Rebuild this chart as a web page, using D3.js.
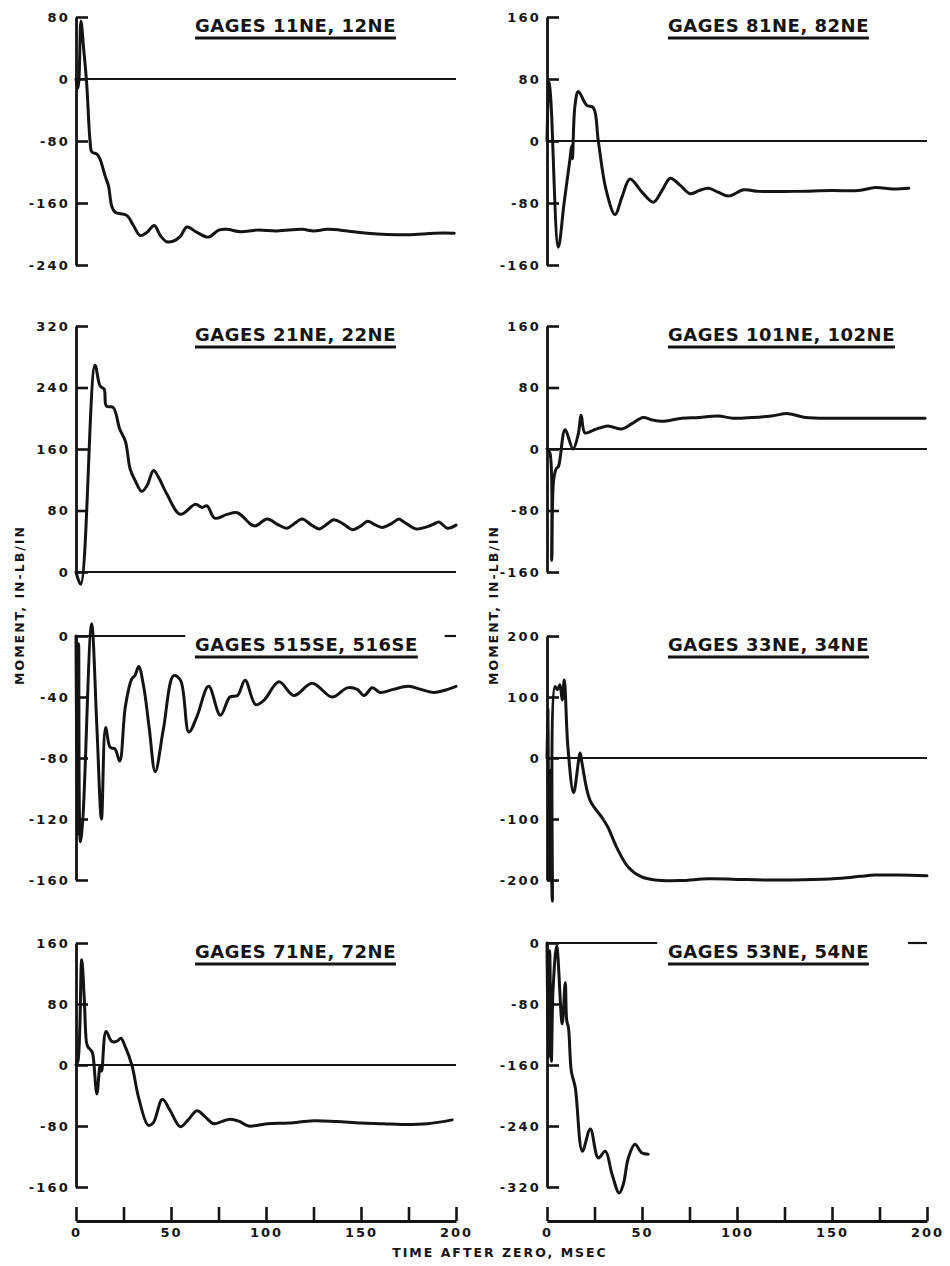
<!DOCTYPE html>
<html>
<head>
<meta charset="utf-8">
<script src="https://cdn.jsdelivr.net/npm/d3@7"></script>
<style>
  body { margin: 0; background: #fff; }
  svg { display: block; }
  text { font-family: "DejaVu Sans", "Liberation Sans", sans-serif; font-weight: bold; fill: #141414; }
</style>
</head>
<body>
<svg id="chart" width="950" height="1266"></svg>
<script>
// ---- Panel titles (gage pairs) ----
const panelTitles = [
  "GAGES 11NE, 12NE", "GAGES 81NE, 82NE",
  "GAGES 21NE, 22NE", "GAGES 101NE, 102NE",
  "GAGES 515SE, 516SE", "GAGES 33NE, 34NE",
  "GAGES 71NE, 72NE", "GAGES 53NE, 54NE"
];

// ---- Time axis (msec) ----
const timeTicks = [0, 25, 50, 75, 100, 125, 150, 175, 200];
const timeLabels = ["0", "", "50", "", "100", "", "150", "", "200"];

// ---- Moment axis ticks per panel (in-lb/in) ----
const yTicks11 = [-240, -160, -80, 0, 80];
const yTicks81 = [-160, -80, 0, 80, 160];
const yTicks21 = [0, 80, 160, 240, 320];
const yTicks101 = [-160, -80, 0, 80, 160];
const yTicks515 = [-160, -120, -80, -40, 0];
const yTicks33 = [-200, -100, 0, 100, 200];
const yTicks71 = [-160, -80, 0, 80, 160];
const yTicks53 = [-320, -240, -160, -80, 0];

// ---- Moment histories: time (msec) and moment (in-lb/in) ----
const t11 = [0, 1, 1.6, 2.6, 4, 5.6, 7.4, 8.3, 11, 12.6, 15.3, 17.1, 18.8, 20.6, 26.7, 30.2, 33.8, 37.3, 41.2, 44.4, 47.8, 51.4, 54.9, 58.4, 63.7, 69.8, 75.1, 79.5, 86.5, 95.3, 105.9, 119, 125.2, 132.2, 142.8, 153.4, 174.5, 188.6, 199.1];
const m11 = [0, -12, 2, 75, 40, -5, -80, -94, -97, -103, -125, -138, -164, -172, -176, -189, -202, -198, -189, -202, -210, -209, -203, -191, -198, -204, -195, -194, -197, -195, -196, -194, -196, -194, -196, -199, -201, -199, -199];

const t81 = [0, 1.05, 2, 5.96, 9, 12.1, 13, 13.4, 14.7, 16.5, 20.9, 24.4, 27, 31, 35.8, 39.5, 43.7, 50, 56, 60.5, 64.9, 70, 75.4, 80, 85, 90, 95.6, 103.5, 111.4, 130, 150, 164, 172.8, 182, 190.4];
const m81 = [0, 76, 54, -137, -80, -23, -6, -23, 45, 64, 46, 43, 0, -62, -95, -72, -49, -66, -79, -64, -48, -57, -68, -64, -61, -66, -71, -63, -65, -65, -64, -64, -60, -62, -61];

const t21 = [0, 2.5, 10, 12.7, 14.8, 16, 19.6, 23, 26, 28.5, 31.1, 34.6, 37.3, 40.8, 43.5, 47.9, 54.9, 62.8, 66.4, 69, 73, 79.5, 85, 92, 94.5, 100.6, 106, 111, 115, 119, 124, 128, 132, 135.7, 141, 145.5, 150, 153.5, 157, 161, 166, 170, 172, 174.5, 179, 185, 188, 191, 195.5, 200];
const m21 = [0, -16, 269, 242, 238, 216, 214, 186, 170, 134, 119, 105, 112, 132, 123, 101, 75, 88, 84, 86, 70, 75, 77, 62, 60, 69, 62, 57, 63, 69, 61, 56, 62, 68, 62, 55, 60, 66, 62, 58, 63, 69, 66, 62, 56, 59, 62, 65, 57, 61];

const t101 = [0, 1.5, 2.5, 3.5, 5, 6, 9.5, 13.7, 16.5, 18, 20, 25, 32, 39.4, 44.7, 50.6, 55, 60.5, 71, 80, 90, 98, 108, 118, 127, 136, 155, 173, 199];
const m101 = [0, -5, -145, -40, -25, -23, 25, 0, 20, 44, 21, 25, 30, 26, 33, 41, 38, 36, 40, 41, 43, 40, 41, 43, 46, 41, 40, 40, 40];

const t515 = [0, 0.7, 1.4, 2.3, 3.6, 8.2, 11, 13.4, 15.6, 18, 20.5, 23, 26, 29.4, 31, 33, 35.6, 38.5, 41.7, 46, 51.4, 55, 59.4, 63.6, 69.8, 76, 81, 85, 89, 94.5, 99, 106.8, 114.7, 124.3, 134.8, 142.8, 148, 151.6, 156, 160, 167, 175, 181.5, 188.5, 195.7, 200];
const m515 = [0, -130, -5, -135, -120, 8, -60, -120, -60, -73, -74, -82, -46, -28, -26, -20, -33, -60, -89, -61, -26, -29, -63, -53, -33, -52, -40, -39, -29, -45, -42, -30, -39, -31, -40, -34, -35, -39, -34, -37, -35, -33, -35, -37, -35, -33];

const t33 = [0, 0.5, 1, 1.7, 2.8, 4.2, 5.5, 6.8, 8, 9.1, 11, 14, 17.4, 18.4, 22.6, 28.8, 32, 36.6, 42.8, 49.8, 56.8, 70, 85, 100, 120, 140, 155, 165, 172.6, 185, 200];
const m33 = [0, 80, -200, -20, -235, 117, 112, 120, 95, 128, 18, -57, 8, -8, -69, -97, -113, -146, -179, -195, -200, -201, -198, -199, -200, -199, -197, -194, -192, -192, -193];

const t71 = [0, 1, 3, 4.3, 5.5, 6.2, 8.3, 9, 11, 12.7, 13.5, 15.8, 18.8, 21.5, 23.6, 25.9, 29.4, 32.9, 38, 40.6, 45.5, 49.6, 54.9, 59, 63.7, 68, 72.5, 77, 81, 86, 90.8, 100.6, 112, 125, 137, 150, 162, 171, 185, 198];
const m71 = [0, 5, 138, 90, 30, 24, 18, 12, -38, -1, -8, 44, 31, 31, 35, 24, 0, -42, -79, -76, -45, -60, -81, -72, -60, -68, -77, -74, -71, -74, -80, -77, -76, -73, -74, -76, -77, -78, -77, -72];

const t53 = [0, 0.7, 1.4, 2.3, 3.2, 5.1, 8, 9.6, 10.4, 11.3, 12.8, 14.9, 18.6, 22.8, 27, 30.7, 34.2, 38, 40.2, 42.8, 46.3, 49.8, 53.3];
const m53 = [0, -150, -10, -155, -60, -4, -106, -52, -102, -111, -168, -190, -273, -244, -282, -273, -303, -328, -316, -282, -264, -275, -277];

// ---- Stretches of the zero reference line (msec), broken where a title sits ----
const zero11 = [[0, 200]];
const zero81 = [[0, 200]];
const zero21 = [[0, 200]];
const zero101 = [[0, 200]];
const zero515 = [[0, 57.5], [194, 200]];
const zero33 = [[0, 200]];
const zero71 = [[0, 200]];
const zero53 = [[0, 58], [190, 200]];

// ---- Layout ----
const ink = "#141414";
const colAxisX = [76, 547];
const plotWidth = 380;
const rowBands = [[17, 265], [326, 572], [636, 880], [943, 1187]];
const timeAxisY = 1221;

const panels = [
  { title: panelTitles[0], t: t11, m: m11, ticks: yTicks11, zero: zero11, col: 0, row: 0 },
  { title: panelTitles[1], t: t81, m: m81, ticks: yTicks81, zero: zero81, col: 1, row: 0 },
  { title: panelTitles[2], t: t21, m: m21, ticks: yTicks21, zero: zero21, col: 0, row: 1 },
  { title: panelTitles[3], t: t101, m: m101, ticks: yTicks101, zero: zero101, col: 1, row: 1 },
  { title: panelTitles[4], t: t515, m: m515, ticks: yTicks515, zero: zero515, col: 0, row: 2 },
  { title: panelTitles[5], t: t33, m: m33, ticks: yTicks33, zero: zero33, col: 1, row: 2 },
  { title: panelTitles[6], t: t71, m: m71, ticks: yTicks71, zero: zero71, col: 0, row: 3 },
  { title: panelTitles[7], t: t53, m: m53, ticks: yTicks53, zero: zero53, col: 1, row: 3 }
];

const svg = d3.select("#chart");
svg.append("rect").attr("width", 950).attr("height", 1266).attr("fill", "#fff");

panels.forEach(p => {
  const x0 = colAxisX[p.col];
  const [top, bottom] = rowBands[p.row];
  const x = d3.scaleLinear().domain([0, 200]).range([x0, x0 + plotWidth]);
  const y = d3.scaleLinear().domain(d3.extent(p.ticks)).range([bottom, top]);
  const g = svg.append("g");

  // zero reference line
  p.zero.forEach(([a, b]) => {
    g.append("line")
      .attr("x1", x(a)).attr("x2", x(b))
      .attr("y1", y(0)).attr("y2", y(0))
      .attr("stroke", ink).attr("stroke-width", 2.2);
  });

  // moment axis with inward ticks
  const axis = d3.axisLeft(y)
    .tickValues(p.ticks)
    .tickSizeInner(-12)
    .tickSizeOuter(0)
    .tickPadding(6)
    .tickFormat(d => String(d));
  const ag = g.append("g").attr("transform", `translate(${x0},0)`).call(axis);
  ag.select(".domain").attr("stroke", ink).attr("stroke-width", 2.8);
  ag.selectAll(".tick line").attr("stroke", ink).attr("stroke-width", 2.6);
  ag.selectAll(".tick text")
    .attr("fill", ink)
    .style("font-size", "13px")
    .style("letter-spacing", "2.2px")
    .style("font-family", "'DejaVu Sans', sans-serif")
    .style("font-weight", "bold");

  // trace
  const pts = p.t.map((t, i) => [t, p.m[i]]);
  const line = d3.line()
    .x(d => x(d[0]))
    .y(d => y(d[1]))
    .curve(d3.curveCatmullRom.alpha(0.5));
  g.append("path")
    .attr("d", line(pts))
    .attr("fill", "none")
    .attr("stroke", ink)
    .attr("stroke-width", 3)
    .attr("stroke-linejoin", "round")
    .attr("stroke-linecap", "round");

  // underlined title
  const tx = x0 + (p.col === 0 ? 119 : 121);
  const ty = top + 15;
  const title = g.append("text")
    .attr("x", tx).attr("y", ty)
    .style("font-size", "18px")
    .style("letter-spacing", "0.5px")
    .text(p.title);
  const w = title.node().getComputedTextLength();
  g.append("line")
    .attr("x1", tx).attr("x2", tx + w)
    .attr("y1", ty + 6).attr("y2", ty + 6)
    .attr("stroke", ink).attr("stroke-width", 3);
});

// shared time axes under the bottom row
colAxisX.forEach(x0 => {
  const x = d3.scaleLinear().domain([0, 200]).range([x0, x0 + plotWidth]);
  const axis = d3.axisBottom(x)
    .tickValues(timeTicks)
    .tickSizeInner(-14)
    .tickSizeOuter(0)
    .tickPadding(7)
    .tickFormat((d, i) => timeLabels[i]);
  const ag = svg.append("g").attr("transform", `translate(0,${timeAxisY})`).call(axis);
  ag.select(".domain").attr("stroke", ink).attr("stroke-width", 2.8);
  ag.selectAll(".tick line").attr("stroke", ink).attr("stroke-width", 2.6);
  ag.selectAll(".tick text")
    .attr("fill", ink)
    .style("font-size", "13px")
    .style("letter-spacing", "2px")
    .style("font-family", "'DejaVu Sans', sans-serif")
    .style("font-weight", "bold");
});

// axis titles
svg.append("text")
  .attr("x", 500).attr("y", 1257)
  .attr("text-anchor", "middle")
  .style("font-size", "12.5px")
  .style("letter-spacing", "2px")
  .text("TIME AFTER ZERO, MSEC");

[19, 493].forEach(cx => {
  svg.append("text")
    .attr("transform", `translate(${cx + 5},605) rotate(-90)`)
    .attr("text-anchor", "middle")
    .style("font-size", "12.5px")
    .style("letter-spacing", "2px")
    .text("MOMENT, IN-LB/IN");
});
</script>
</body>
</html>
